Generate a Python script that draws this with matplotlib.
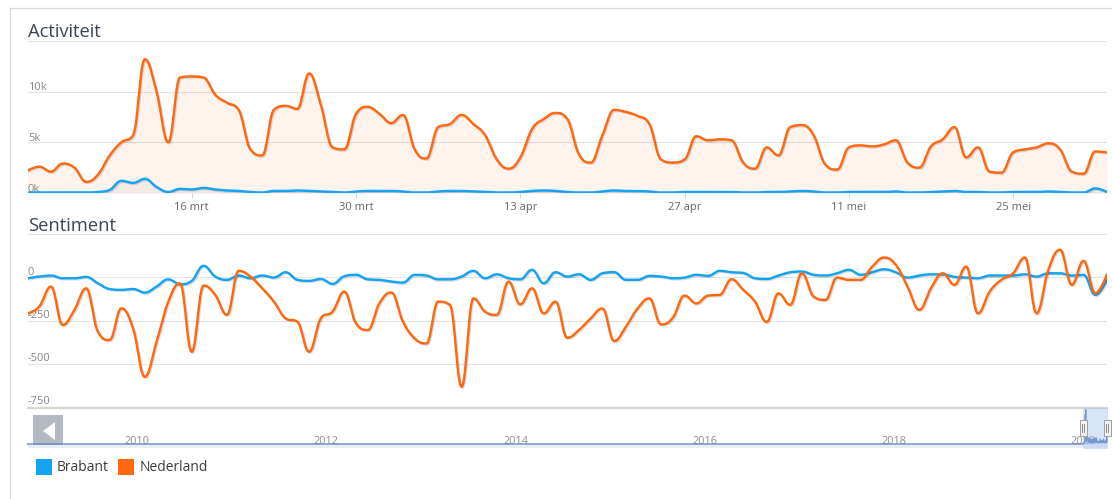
import matplotlib
matplotlib.use('Agg')
import matplotlib.pyplot as plt
import numpy as np
import pandas as pd
import matplotlib.dates as mdates
import matplotlib.patheffects as pe
import matplotlib.patches as mpatches

plt.rcParams['font.family'] = ['Open Sans', 'DejaVu Sans']

# ---------------- data ----------------
start_date = '2020-03-02'
series_names = ['Brabant', 'Nederland']
series_colors = ['#14a3f2', '#ff680f']

activity_brabant = [0.05, 0.05, 0.05, 0.05, 0.05, 0.05, 0.1, 0.3, 1.2, 1.0,
                    1.4, 0.6, 0.1, 0.4, 0.35, 0.5, 0.35, 0.25, 0.2, 0.1,
                    0.05, 0.2, 0.2, 0.25, 0.2, 0.15, 0.1, 0.05, 0.15, 0.2,
                    0.2, 0.2, 0.15, 0.05, 0.05, 0.15, 0.2, 0.2, 0.15, 0.1,
                    0.05, 0.05, 0.1, 0.2, 0.25, 0.2, 0.1, 0.05, 0.05, 0.15,
                    0.25, 0.2, 0.2, 0.15, 0.05, 0.05, 0.1, 0.1, 0.1, 0.1,
                    0.1, 0.05, 0.05, 0.1, 0.1, 0.15, 0.2, 0.15, 0.05, 0.05,
                    0.1, 0.1, 0.1, 0.1, 0.15, 0.05, 0.05, 0.1, 0.15, 0.2,
                    0.1, 0.1, 0.05, 0.05, 0.1, 0.1, 0.1, 0.15, 0.1, 0.05,
                    0.05, 0.45, 0.1]
activity_nederland = [2.2, 2.6, 2.1, 2.9, 2.5, 1.1, 1.8, 3.7, 5.0, 5.7,
                      13.2, 10.0, 5.0, 11.4, 11.5, 11.4, 9.7, 8.9, 8.2, 4.3,
                      3.7, 8.2, 8.6, 8.3, 11.8, 8.7, 4.5, 4.3, 7.8, 8.5,
                      7.8, 6.9, 7.7, 4.3, 3.4, 6.5, 6.8, 7.7, 6.8, 5.7,
                      3.3, 2.4, 3.5, 6.3, 7.3, 7.9, 7.3, 3.8, 3.0, 5.7,
                      8.2, 8.0, 7.6, 6.8, 3.3, 3.0, 3.3, 5.6, 5.2, 5.3,
                      5.2, 3.0, 2.4, 4.5, 3.7, 6.5, 6.7, 5.7, 2.8, 2.3,
                      4.5, 4.7, 4.6, 4.8, 5.2, 3.0, 2.5, 4.6, 5.3, 6.5,
                      3.5, 4.5, 2.1, 2.0, 4.0, 4.3, 4.5, 4.9, 4.3, 2.1,
                      1.9, 4.1, 4.0]
sentiment_brabant = [-6, 4, 10, -6, -6, 2, -35, -68, -73, -68,
                     -89, -54, -12, -41, -21, 66, 4, -15, 10, -6,
                     10, -2, 29, -15, -21, -10, -39, 6, 14, -12,
                     -15, -25, -31, 14, 10, -12, -12, 4, 37, -6,
                     17, -6, -12, 43, -35, 29, 4, 17, -15, 23,
                     29, -15, -15, 8, 4, -6, -2, 14, 8, 37,
                     29, 25, -6, -10, 10, 29, 33, 14, 10, 23,
                     43, 14, 29, 46, 29, -2, 10, 17, 17, 2,
                     -2, -6, 10, 10, 10, 17, 4, 23, 23, 10,
                     14, -102, -15]
sentiment_nederland = [-209, -170, -54, -276, -189, -64, -315, -363, -180, -296,
                       -576, -373, -141, -35, -431, -48, -102, -218, 37, 4,
                       -64, -141, -238, -257, -431, -238, -199, -83, -267, -305,
                       -150, -88, -257, -354, -383, -141, -160, -634, -122, -199,
                       -218, -25, -157, -64, -209, -141, -350, -305, -238, -180,
                       -369, -286, -180, -122, -273, -234, -106, -151, -106, -102,
                       -12, -73, -141, -259, -93, -160, 23, -112, -131, -2,
                       -15, -15, 62, 114, 72, -54, -189, -64, 23, -44,
                       62, -209, -83, -15, 23, 114, -209, 43, 159, -44,
                       95, -93, 17]

act_ticks = [0, 5, 10]
act_ticklabels = ['0k', '5k', '10k']
act_grid = [0, 5, 10, 15]
sent_ticks = [0, -250, -500, -750]
sent_ticklabels = ['0', '-250', '-500', '-750']
sent_grid = [250, 0, -250, -500, -750]
x_tick_dates = ['2020-03-16', '2020-03-30', '2020-04-13', '2020-04-27', '2020-05-11', '2020-05-25']
x_tick_labels = ['16 mrt', '30 mrt', '13 apr', '27 apr', '11 mei', '25 mei']
nav_years = [2010, 2012, 2014, 2016, 2018, 2020]
nav_hist_dates = ['2009-01-01', '2020-03-01']
nav_hist_values = [0.0, 0.0]

# ---------------- helpers ----------------
W, H = 1112, 499
fig = plt.figure(figsize=(W / 100, H / 100), dpi=100)


def ax_px(x0, y0, x1, y1, **kw):
    return fig.add_axes([x0 / W, 1 - y1 / H, (x1 - x0) / W, (y1 - y0) / H], **kw)


def hc_spline(x, y, smoothing=1.5, n=16):
    x = np.asarray(x, float)
    y = np.asarray(y, float)
    N = len(x)
    lc = [None] * N
    rc = [None] * N
    den = smoothing + 1
    for i in range(1, N - 1):
        lx, ly = x[i - 1], y[i - 1]
        nx, ny = x[i + 1], y[i + 1]
        px, py = x[i], y[i]
        lcx = (smoothing * px + lx) / den
        lcy = (smoothing * py + ly) / den
        rcx = (smoothing * px + nx) / den
        rcy = (smoothing * py + ny) / den
        corr = 0.0
        if rcx != lcx:
            corr = ((rcy - lcy) * (rcx - px)) / (rcx - lcx) + py - rcy
        lcy += corr
        rcy += corr
        if lcy > ly and lcy > py:
            lcy = max(ly, py); rcy = 2 * py - lcy
        elif lcy < ly and lcy < py:
            lcy = min(ly, py); rcy = 2 * py - lcy
        if rcy > ny and rcy > py:
            rcy = max(ny, py); lcy = 2 * py - rcy
        elif rcy < ny and rcy < py:
            rcy = min(ny, py); lcy = 2 * py - rcy
        lc[i] = (lcx, lcy)
        rc[i] = (rcx, rcy)
    ox = [x[0]]
    oy = [y[0]]
    t = np.linspace(0, 1, n)[1:]
    for i in range(1, N):
        p0 = (x[i - 1], y[i - 1])
        c1 = rc[i - 1] if rc[i - 1] is not None else p0
        p3 = (x[i], y[i])
        c2 = lc[i] if lc[i] is not None else p3
        bx = (1 - t) ** 3 * p0[0] + 3 * (1 - t) ** 2 * t * c1[0] + 3 * (1 - t) * t ** 2 * c2[0] + t ** 3 * p3[0]
        by = (1 - t) ** 3 * p0[1] + 3 * (1 - t) ** 2 * t * c1[1] + 3 * (1 - t) * t ** 2 * c2[1] + t ** 3 * p3[1]
        ox.extend(bx)
        oy.extend(by)
    return np.array(ox), np.array(oy)


dates = pd.date_range(start_date, periods=len(activity_nederland))
xd = mdates.date2num(dates)

# background overlay (pixel coordinates)
bg = fig.add_axes([0, 0, 1, 1], zorder=-5)
bg.set_xlim(0, W); bg.set_ylim(H, 0); bg.axis('off')
fg = fig.add_axes([0, 0, 1, 1], zorder=20)
fg.set_xlim(0, W); fg.set_ylim(H, 0); fg.axis('off')
fg.patch.set_alpha(0)

# outer frame
bg.plot([9.5, 9.5], [7.5, H], color='#d5d9de', lw=0.9)
bg.plot([9.5, W], [7.5, 7.5], color='#d5d9de', lw=0.9)

shadow = [pe.SimpleLineShadow(offset=(0.8, -0.8), shadow_color='black', alpha=0.13), pe.Normal()]
LW = 1.75

# ---------------- activity chart ----------------
ax1 = ax_px(27.5, 41, 1107, 193)
ax1.patch.set_alpha(0)
ax1.set_xlim(xd[0], xd[-1])
ax1.set_ylim(0, 15)
for s in ax1.spines.values():
    s.set_visible(False)
for v in act_grid[1:]:
    ax1.axhline(v, color='#e3e3e3', lw=0.8, zorder=0)
ax1.axhline(0, color='#ccd6eb', lw=0.9, zorder=1)
ax1.set_yticks([])
ax1.set_xticks(mdates.date2num(pd.to_datetime(x_tick_dates)))
ax1.set_xticklabels(x_tick_labels)
ax1.tick_params(axis='x', length=3.6, width=0.8, color='#ccd6eb', labelcolor='#666666',
                labelsize=8, pad=3)
for v, lab in zip(act_ticks, act_ticklabels):
    ax1.annotate(lab, xy=(0, v), xycoords=ax1.get_yaxis_transform(), xytext=(0.5, 1.5),
                 textcoords='offset pixels', ha='left', va='baseline', fontsize=8, color='#888888')

for vals, col, fa in [(activity_nederland, series_colors[1], 0.075), (activity_brabant, series_colors[0], 0.09)]:
    cx, cy = hc_spline(xd, vals)
    ax1.fill_between(cx, 0, cy, color=col if col == series_colors[1] else '#8a9bb0', alpha=fa, lw=0, zorder=2)
for vals, col in [(activity_brabant, series_colors[0]), (activity_nederland, series_colors[1])]:
    cx, cy = hc_spline(xd, vals)
    ax1.plot(cx, cy, color=col, lw=LW, zorder=4, solid_capstyle='round', path_effects=shadow)

fig.text(28 / W, 1 - 37 / H, 'Activiteit', ha='left', va='baseline', fontsize=13.2, color='#3b4551')

# ---------------- sentiment chart ----------------
ax2 = ax_px(27.5, 234, 1107, 407)
ax2.patch.set_alpha(0)
ax2.set_xlim(xd[0], xd[-1])
ax2.set_ylim(-750, 250)
for s in ax2.spines.values():
    s.set_visible(False)
for v in sent_grid:
    ax2.axhline(v, color='#e3e3e3', lw=0.8, zorder=0)
ax2.set_xticks([]); ax2.set_yticks([])
for v, lab in zip(sent_ticks, sent_ticklabels):
    ax2.annotate(lab, xy=(0, v), xycoords=ax2.get_yaxis_transform(), xytext=(0.5, 2.5),
                 textcoords='offset pixels', ha='left', va='baseline', fontsize=8, color='#888888')
for vals, col in [(sentiment_brabant, series_colors[0]), (sentiment_nederland, series_colors[1])]:
    cx, cy = hc_spline(xd, vals)
    ax2.plot(cx, cy, color=col, lw=LW, zorder=4, solid_capstyle='round', path_effects=shadow)

fig.text(28 / W, 1 - 231 / H, 'Sentiment', ha='left', va='baseline', fontsize=13.2, color='#3b4551')

# ---------------- navigator ----------------
nav_x0, nav_x1 = 27.5, 1107
axn = ax_px(nav_x0, 408, nav_x1, 444, zorder=5)
axn.patch.set_alpha(0)
nav_dates = list(pd.to_datetime(nav_hist_dates)) + list(dates)
nav_vals = list(nav_hist_values) + list(activity_brabant)
nxd = mdates.date2num(pd.to_datetime(nav_dates))
axn.set_xlim(nxd[0], nxd[-1])
axn.set_ylim(0, max(nav_vals) * 1.05)
axn.axis('off')
axn.fill_between(nxd, 0, nav_vals, color='#4572a7', alpha=0.08, lw=0)
axn.plot(nxd, nav_vals, color='#5a7fc2', lw=0.9, clip_on=False)

# navigator outline & track
bg.plot([27.5, 1107], [407.5, 407.5], color='#d6d6d6', lw=1.6)
bg.add_patch(mpatches.Rectangle((27.5, 444), 1079.5, 3.5, facecolor='#e9eef6', edgecolor='none'))

# year labels
ytr = axn.transData
for yv in nav_years:
    xv = mdates.date2num(pd.Timestamp(f'{yv}-01-01'))
    axn.annotate(str(yv), xy=(xv, 0), xycoords=('data', 'axes fraction'), xytext=(3, 0),
                 textcoords='offset pixels', ha='left', va='baseline', fontsize=7.8,
                 color='#8f8f8f', annotation_clip=False, zorder=1)

# selected range
sx0 = 27.5 + (mdates.date2num(dates[0]) - nxd[0]) / (nxd[-1] - nxd[0]) * (nav_x1 - nav_x0)
sx1 = nav_x1
fg.add_patch(mpatches.Rectangle((sx0, 408), sx1 - sx0, 40, facecolor='#9fbfec', alpha=0.4,
                                edgecolor='#a9bfe0', lw=0.6))
for hx in (sx0, sx1):
    fg.add_patch(mpatches.Rectangle((hx - 3.5, 420), 7, 15.5, facecolor='#f2f2f2', edgecolor='#a0a0a0', lw=0.7))
    for dx in (-1, 1):
        fg.plot([hx + dx, hx + dx], [424, 431.5], color='#7a7a7a', lw=0.6)

# left scroll button
bg.add_patch(mpatches.Rectangle((33, 415), 30, 30, facecolor='#b3bac3', edgecolor='none'))
fg.add_patch(mpatches.Polygon([(43, 431), (55, 422), (55, 440)], closed=True, facecolor='white', edgecolor='none'))

# ---------------- legend ----------------
lx = 36
text_x = [57, 140]
sq_x = [36, 118]
for name, col, sx, tx in zip(series_names, series_colors, sq_x, text_x):
    fg.add_patch(mpatches.Rectangle((sx, 459), 16, 16, facecolor=col, edgecolor='none'))
    fg.text(tx, 467.5, name, ha='left', va='center', fontsize=10, color='#3d3d3d')

fig.savefig('out.png', dpi=100)
